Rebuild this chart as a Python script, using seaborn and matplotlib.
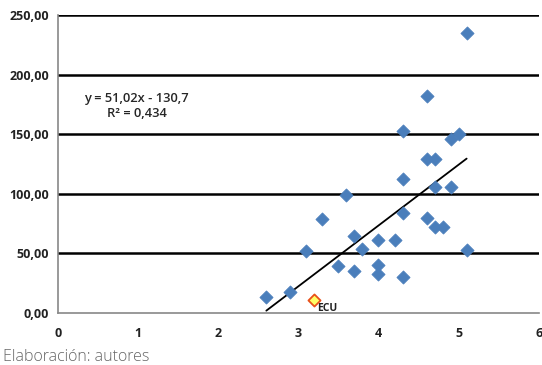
import numpy as np
import pandas as pd
import matplotlib
matplotlib.use('Agg')
import matplotlib.pyplot as plt
import seaborn as sns

# data
x_vals = [2.6, 2.9, 3.1, 3.3, 3.5, 3.6, 3.7, 3.7, 3.8, 4.0, 4.0, 4.0, 4.2, 4.3, 4.3,
          4.3, 4.3, 4.6, 4.6, 4.7, 4.7, 4.6, 4.7, 4.8, 4.9, 4.9, 5.0, 5.1, 5.1]
y_vals = [13, 18, 52, 79, 39, 99, 65, 35, 54, 61, 40, 33, 61, 30, 84,
          112, 153, 182, 129, 129, 106, 80, 72, 72, 106, 146, 150, 235, 53]
ecu_x = [3.2]
ecu_y = [11]
slope, intercept = 51.02, -130.7
line_x = [2.6, 5.1]

df = pd.DataFrame({'x': x_vals, 'y': y_vals})
ecu = pd.DataFrame({'x': ecu_x, 'y': ecu_y})

sns.set_style('white')
plt.rcParams['font.family'] = ['Open Sans', 'DejaVu Sans']

fig = plt.figure(figsize=(5.42, 3.65), dpi=100)
ax = fig.add_axes([0.107, 0.1425, 0.887, 0.8165])

# gridlines
for g in [50, 100, 150, 200, 250]:
    ax.axhline(g, color='black', lw=1.8, zorder=1)

sns.scatterplot(data=df, x='x', y='y', marker='D', s=45, color='#4a7ebb',
                edgecolor='#4a7ebb', ax=ax, zorder=3)
sns.scatterplot(data=ecu, x='x', y='y', marker='D', s=38, color='#ffff66',
                edgecolor='#e8501a', linewidth=1.3, ax=ax, zorder=4)
ax.text(ecu_x[0] + 0.04, ecu_y[0] - 3, 'ECU', fontsize=7.5, fontweight='bold',
        va='top', ha='left', color='#222222')

lx = np.array(line_x)
ax.plot(lx, slope * lx + intercept, color='black', lw=1.3, zorder=2)

ax.text(0.98, 180, 'y = 51,02x - 130,7', fontsize=9.3, ha='center', va='center',
        fontweight='semibold')
ax.text(0.98, 167, 'R² = 0,434', fontsize=9.3, ha='center', va='center',
        fontweight='semibold')

ax.set_xlim(0, 6)
ax.set_ylim(0, 250)
ax.set_xticks(range(0, 7))
ax.set_yticks([0, 50, 100, 150, 200, 250])
ax.set_yticklabels([f'{v:.2f}'.replace('.', ',') for v in [0, 50, 100, 150, 200, 250]])
ax.set_xlabel('')
ax.set_ylabel('')
ax.tick_params(axis='both', labelsize=9, length=3, color='#888888', direction='out')
ax.tick_params(axis='x', pad=7)
for lab in ax.get_xticklabels() + ax.get_yticklabels():
    lab.set_fontweight('bold')
    lab.set_color('#222222')

for side in ['top', 'right']:
    ax.spines[side].set_visible(False)
for side in ['left', 'bottom']:
    ax.spines[side].set_color('#888888')
    ax.spines[side].set_linewidth(1.2)

fig.text(0.006, 0.01, 'Elaboración: autores', fontsize=11.5, color='#666666',
         fontweight='light')

fig.savefig('out.png', dpi=100)
